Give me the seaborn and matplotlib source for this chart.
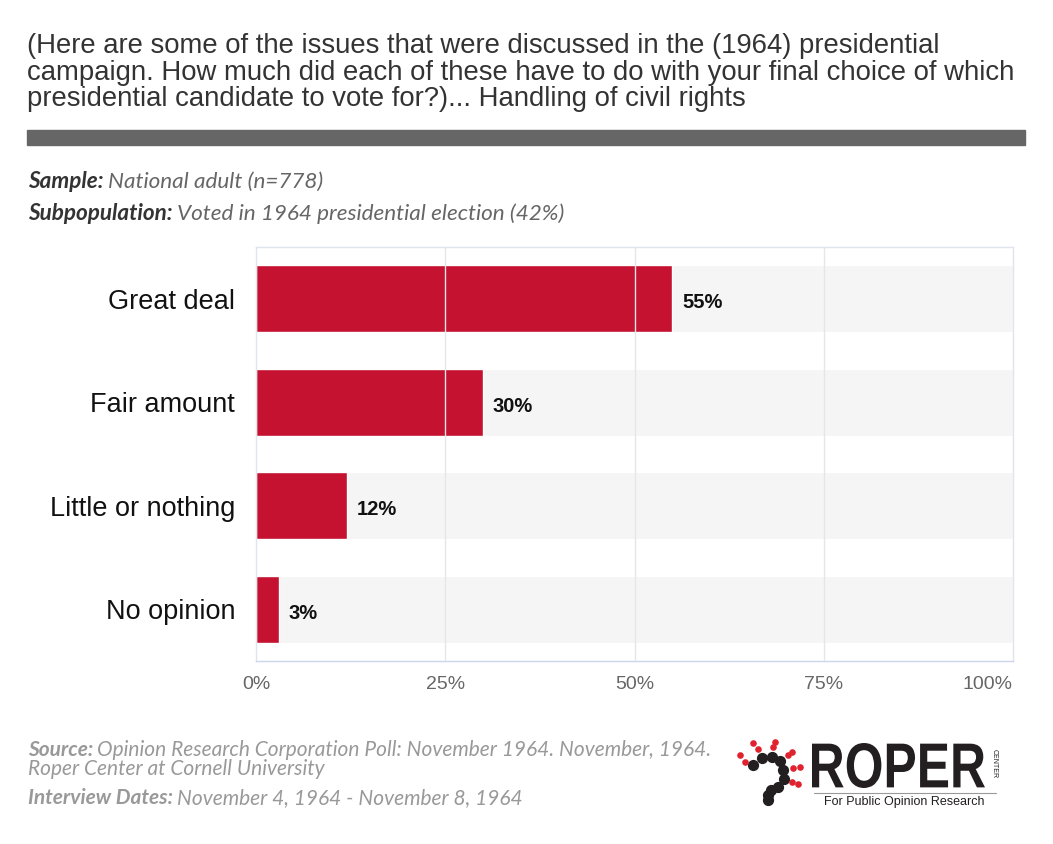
import pandas as pd
import matplotlib.pyplot as plt
import seaborn as sns
from matplotlib.textpath import TextPath
from matplotlib.font_manager import FontProperties
from matplotlib.patches import PathPatch
from matplotlib.transforms import Affine2D

# --- Dados ---
categories = ['Great deal', 'Fair amount', 'Little or nothing', 'No opinion']
values = [55, 30, 12, 3]
track = [100, 100, 100, 100]
tick_values = [0, 25, 50, 75, 100]
tick_labels = ['0%', '25%', '50%', '75%', '100%']

TITLE = ("(Here are some of the issues that were discussed in the (1964) presidential\n"
         "campaign. How much did each of these have to do with your final choice of which\n"
         "presidential candidate to vote for?)... Handling of civil rights")
BAR_COLOR = '#c41230'

df = pd.DataFrame({'category': categories, 'value': values, 'track': track})

sns.set_style('white')
plt.rcParams['font.family'] = ['Liberation Sans', 'DejaVu Sans']

fig = plt.figure(figsize=(10.53, 8.44), dpi=100)
ax = fig.add_axes([256 / 1053, 1 - 661 / 844, (1013 - 256) / 1053, (661 - 247) / 844])

# faixa cinza de fundo + barras
sns.barplot(data=df, x='track', y='category', color='#f5f5f5', width=0.65,
            saturation=1, ax=ax, zorder=1)
sns.barplot(data=df, x='value', y='category', color=BAR_COLOR, width=0.65,
            saturation=1, ax=ax, zorder=2)

for i, v in enumerate(values):
    ax.text(v + 1.3, i + 0.04, f'{v}%', va='center', ha='left', fontsize=14.5,
            fontweight='bold', color='#111111', zorder=4)

ax.set_xlim(0, 100)
ax.set_ylim(3.5, -0.5)
ax.set_xticks(tick_values)
ax.set_xticklabels(tick_labels, fontsize=14, color='#666666')
ax.get_xticklabels()[-1].set_ha('right')
ax.tick_params(axis='x', length=0, pad=11)
ax.tick_params(axis='y', length=0, pad=15, labelsize=19.5, labelcolor='#111111')
ax.set_xlabel('')
ax.set_ylabel('')
for x in tick_values[1:-1]:
    ax.axvline(x, color='#e6e6e6', lw=1, zorder=3)
for s in ax.spines.values():
    s.set_color('#dfe4ee')
    s.set_linewidth(1)
ax.spines['bottom'].set_color('#ccd6eb')

# --- Título e textos ---
fig.text(27 / 1053, 1 - 33 / 844, TITLE, ha='left', va='top', fontsize=19.8,
         color='#333333', linespacing=1.03)
fig.patches.append(plt.Rectangle((27 / 1053, 1 - 145 / 844), 998 / 1053, 15 / 844,
                                 transform=fig.transFigure, color='#666666'))

def label_line(y, bold, rest, size=12.5, c1='#444444', c2='#777777'):
    t = fig.text(28 / 1053, y, bold, ha='left', va='center', fontsize=size,
                 family='Lato', style='italic', fontweight='bold', color=c1)
    fig.canvas.draw()
    bb = t.get_window_extent()
    fig.text(bb.x1 / fig.bbox.width + 0.004, y, rest, ha='left', va='center',
             fontsize=size, family='Lato', style='italic', color=c2)

label_line(1 - 182 / 844, 'Sample:', 'National adult (n=778)', size=16.2, c1='#333333', c2='#666666')
label_line(1 - 214 / 844, 'Subpopulation:', 'Voted in 1964 presidential election (42%)',
           size=16.2, c1='#333333', c2='#666666')
label_line(1 - 750 / 844, 'Source:', 'Opinion Research Corporation Poll: November 1964. November, 1964.',
           size=15, c1='#999999', c2='#999999')
fig.text(28 / 1053, 1 - 769 / 844, 'Roper Center at Cornell University', ha='left', va='center',
         fontsize=15, family='Lato', style='italic', color='#999999')
label_line(1 - 798 / 844, 'Interview Dates:', 'November 4, 1964 - November 8, 1964',
           size=15, c1='#999999', c2='#999999')

# --- Logo ROPER (decorativo) ---
ax_logo = fig.add_axes([0, 0, 1, 1], zorder=-1)
ax_logo.set_xlim(0, 1053)
ax_logo.set_ylim(844, 0)
ax_logo.axis('off')

tp = TextPath((0, 0), 'ROPER', size=100,
              prop=FontProperties(family='Liberation Sans', weight='bold'))
ext = tp.get_extents()
sx = (985 - 812) / ext.width
sy = (788 - 743) / ext.height
tr = Affine2D().translate(-ext.x0, -ext.y0).scale(sx, -sy).translate(812, 788)
ax_logo.add_patch(PathPatch(tr.transform_path(tp), color='#231f20', lw=0))

fig.text(994 / 1053, 1 - 764 / 844, 'CENTER', ha='center', va='center', fontsize=5,
         rotation=-90, color='#231f20')
ax_logo.plot([814, 996], [793, 793], color='#999999', lw=0.8)
fig.text(904 / 1053, 1 - 802 / 844, 'For Public Opinion Research', ha='center', va='center',
         fontsize=9, color='#231f20')
dark = [(753, 765), (762, 758), (772, 757), (780, 761), (783, 770), (784, 779),
        (778, 787), (771, 790), (768, 795), (768, 800)]
red = [(740, 755), (745, 762), (753, 743), (758, 749), (773, 747), (775, 742), (788, 755),
       (792, 752), (793, 768), (800, 767), (792, 782), (798, 784)]
ax_logo.scatter([p[0] for p in dark], [p[1] for p in dark], s=50, color='#231f20')
ax_logo.scatter([p[0] for p in red], [p[1] for p in red], s=14, color='#e0222f')

fig.savefig('out.png', dpi=100)
